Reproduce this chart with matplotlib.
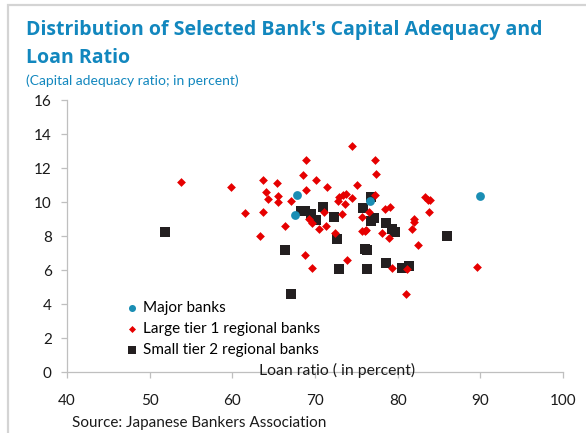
import matplotlib
matplotlib.use("Agg")
import matplotlib.pyplot as plt
from matplotlib.patches import Rectangle

# Data (loan ratio %, capital adequacy ratio %)
major_x = [67.8, 67.6, 76.6, 90.0]
major_y = [10.4, 9.25, 10.05, 10.35]

large_x = [53.8, 59.8, 61.5, 63.3, 63.7, 64.1, 64.3, 63.7, 65.4, 65.5, 65.5, 67.1,
           68.9, 68.5, 70.1, 68.9, 71.4, 71.1, 69.3, 66.4, 68.8, 69.6, 70.5, 71.3,
           69.6, 74.5, 77.2, 77.4, 75.1, 72.9, 73.4, 73.7, 72.8, 73.6, 74.5, 77.2,
           76.5, 78.5, 79.1, 83.3, 83.7, 83.8, 73.3, 75.7, 82.0, 72.4, 75.7, 76.2,
           78.1, 78.9, 82.0, 81.7, 82.4, 73.9, 79.3, 81.1, 81.0, 89.6, 83.9, 76.0]
large_y = [11.2, 10.9, 9.35, 8.0, 11.3, 10.6, 10.2, 9.4, 11.1, 10.35, 10.0, 10.05,
           12.45, 11.6, 11.3, 10.7, 10.9, 9.4, 9.0, 8.6, 6.9, 6.1, 8.4, 8.6,
           8.75, 13.3, 12.45, 11.65, 11.0, 10.3, 10.4, 10.5, 10.05, 9.9, 10.25, 10.4,
           9.4, 9.6, 9.7, 10.3, 10.1, 9.4, 9.3, 9.1, 9.0, 8.2, 8.3, 8.35,
           8.2, 7.9, 8.8, 8.4, 7.5, 6.6, 6.1, 6.05, 4.6, 6.2, 10.1, 8.3]

small_x = [51.9, 68.3, 68.8, 69.5, 70.1, 71.0, 72.3, 72.7, 66.4, 72.9, 67.1, 76.8,
           75.8, 76.8, 77.1, 78.6, 79.3, 79.7, 76.0, 76.3, 78.6, 80.5, 81.4, 76.3, 86.0]
small_y = [8.25, 9.5, 9.45, 9.3, 8.95, 9.7, 9.1, 7.85, 7.2, 6.05, 4.6, 10.3,
           9.65, 8.9, 9.05, 8.75, 8.4, 8.25, 7.25, 7.2, 6.4, 6.1, 6.25, 6.05, 8.0]

series_labels = ["Major banks", "Large tier 1 regional banks", "Small tier 2 regional banks"]
x_ticks = [40, 50, 60, 70, 80, 90, 100]
y_ticks = [0, 2, 4, 6, 8, 10, 12, 14, 16]

TEAL = "#1287BE"
W, H = 586, 433
fig = plt.figure(figsize=(W / 100, H / 100), dpi=100)
fig.patch.set_facecolor("white")

# outer frame
fig.add_artist(Rectangle((8 / W, -0.05), 1.2, (H - 5) / H + 0.05, transform=fig.transFigure,
                         fill=False, edgecolor="#d4d4d4", linewidth=1.6))

ax = fig.add_axes([67 / W, 1 - 372 / H, (563 - 67) / W, (372 - 100) / H])
ax.scatter(major_x, major_y, marker="o", s=40, color="#1A8EB4", zorder=3, label=series_labels[0], linewidths=0)
ax.scatter(large_x, large_y, marker="D", s=20, color="#E60000", zorder=4, label=series_labels[1], linewidths=0)
ax.scatter(small_x, small_y, marker="s", s=44, color="#231F20", zorder=2, label=series_labels[2], linewidths=0)

ax.set_xlim(40, 100)
ax.set_ylim(0, 16)
ax.set_xticks(x_ticks)
ax.set_yticks(y_ticks)
for s in ["top", "right"]:
    ax.spines[s].set_visible(False)
for s in ["left", "bottom"]:
    ax.spines[s].set_color("#BFBFBF")
    ax.spines[s].set_linewidth(0.9)
ax.tick_params(axis="both", colors="#BFBFBF", length=4, width=0.9, labelcolor="#1a1a1a", labelsize=11)
ax.tick_params(axis="x", pad=12)
ax.tick_params(axis="y", pad=7)
for lbl in ax.get_xticklabels() + ax.get_yticklabels():
    lbl.set_fontfamily("Lato")

leg = ax.legend(loc="lower left", bbox_to_anchor=(0.1, 0.032), frameon=False,
                prop={"family": "Lato", "size": 11}, handletextpad=0.1, labelspacing=0.45,
                borderaxespad=0, handlelength=1.2, markerscale=0.8)

fig.text(26 / W, 1 - 30 / H, "Distribution of Selected Bank's Capital Adequacy and",
         fontsize=14, fontweight="bold", color=TEAL, family="Open Sans", va="center", ha="left")
fig.text(26 / W, 1 - 58 / H, "Loan Ratio",
         fontsize=14, fontweight="bold", color=TEAL, family="Open Sans", va="center", ha="left")
fig.text(26 / W, 1 - 81 / H, "(Capital adequacy ratio; in percent)",
         fontsize=10, color=TEAL, family="Lato", va="center", ha="left")
fig.text(337 / W, 1 - 370 / H, "Loan ratio ( in percent)",
         fontsize=11.3, color="#1a1a1a", family="Lato", va="center", ha="center")
fig.text(72 / W, 1 - 423 / H, "Source: Japanese Bankers Association",
         fontsize=11, color="#1a1a1a", family="Lato", va="center", ha="left")

fig.savefig("out.png", dpi=100)
